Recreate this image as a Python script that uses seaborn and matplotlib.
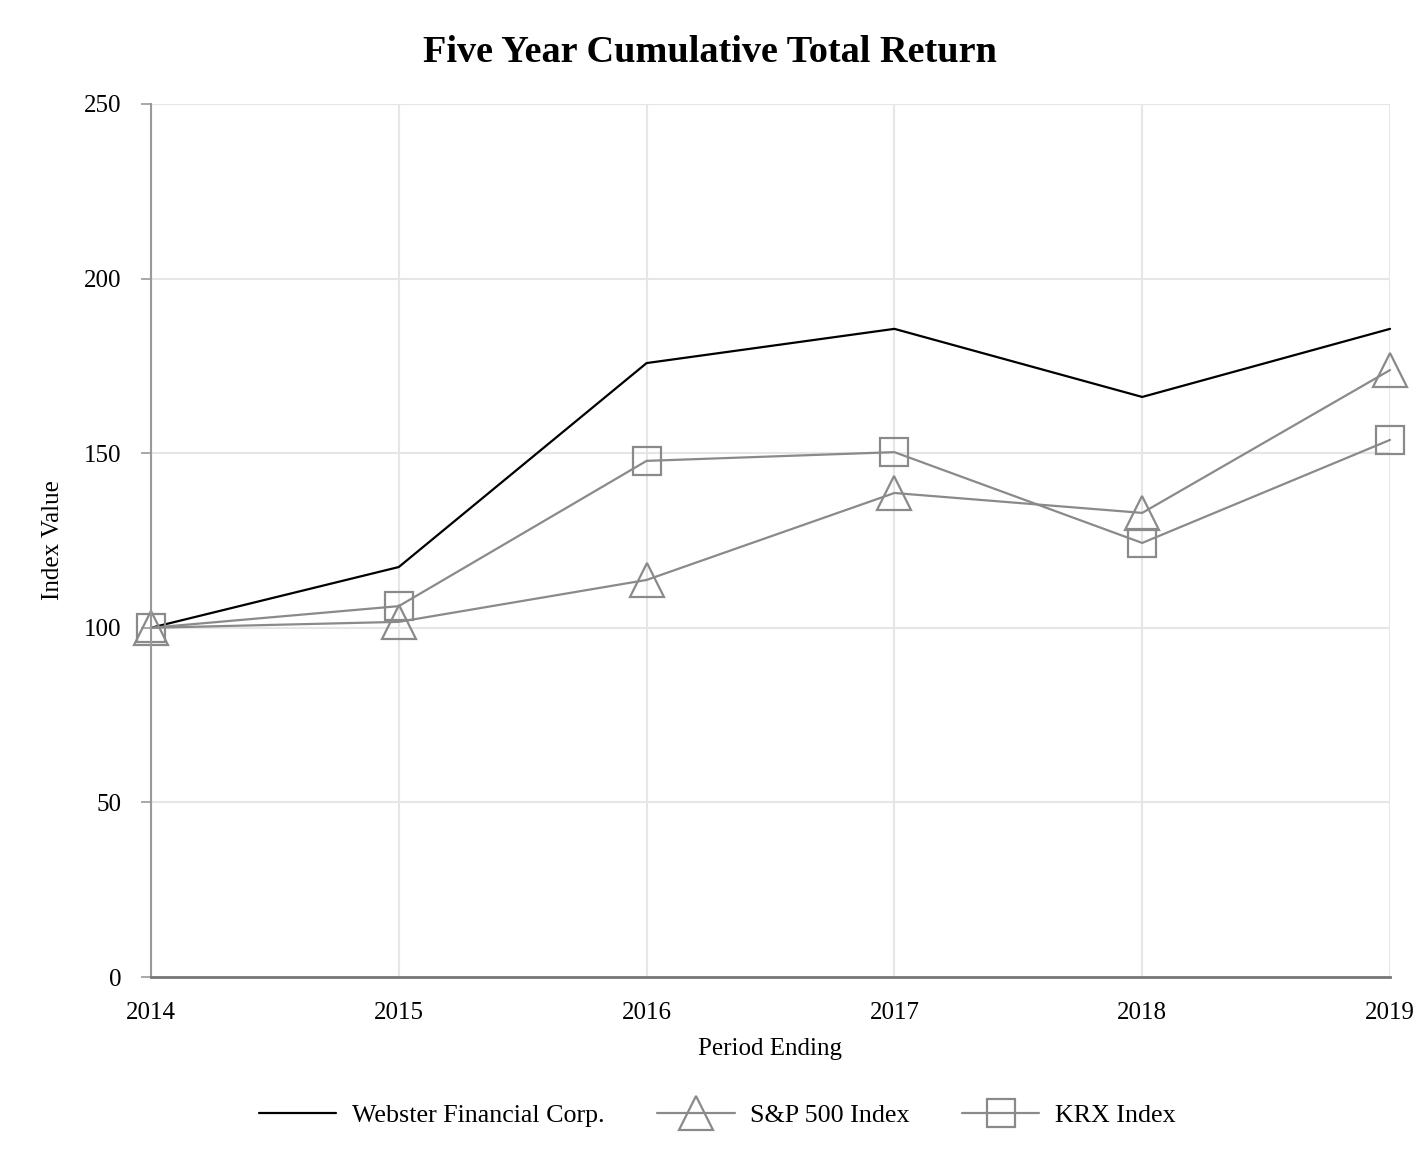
import pandas as pd
import seaborn as sns
import matplotlib.pyplot as plt

# data
years = [2014, 2015, 2016, 2017, 2018, 2019]
webster = [100, 117.4, 175.8, 185.6, 166.1, 185.6]
sp500 = [100, 101.7, 113.7, 138.6, 132.9, 173.8]
krx = [100, 106.2, 147.8, 150.3, 124.3, 153.8]

sns.set_style("white")
plt.rcParams['font.family'] = ['Liberation Serif', 'DejaVu Serif']
plt.rcParams['text.color'] = 'black'
plt.rcParams['axes.labelcolor'] = 'black'
plt.rcParams['xtick.color'] = 'black'
plt.rcParams['ytick.color'] = 'black'

df = pd.DataFrame({'year': years, 'Webster Financial Corp.': webster,
                   'S&P 500 Index': sp500, 'KRX Index': krx})

fig = plt.figure(figsize=(14.2, 11.68), dpi=100)
ax = fig.add_axes([0.1063, 0.1635, 0.8726, 0.7475])

grey = '#8a8a8a'
sns.lineplot(data=df, x='year', y='Webster Financial Corp.', ax=ax, color='black',
             linewidth=1.6, label='Webster Financial Corp.', legend=False, clip_on=False)
sns.lineplot(data=df, x='year', y='S&P 500 Index', ax=ax, color=grey, linewidth=1.6,
             marker='^', markersize=24, markerfacecolor='none', markeredgecolor=grey,
             markeredgewidth=1.6, label='S&P 500 Index', legend=False, clip_on=False)
sns.lineplot(data=df, x='year', y='KRX Index', ax=ax, color=grey, linewidth=1.6,
             marker='s', markersize=20, markerfacecolor='none', markeredgecolor=grey,
             markeredgewidth=1.6, label='KRX Index', legend=False, clip_on=False)

ax.set_xlim(2014, 2019)
ax.set_ylim(0, 250)
ax.set_xticks(years)
ax.set_yticks([0, 50, 100, 150, 200, 250])
ax.grid(True, color='#e6e6e6', linewidth=1.5)
ax.set_axisbelow(True)
for s in ['top', 'right']:
    ax.spines[s].set_visible(False)
ax.spines['left'].set_color('#999999')
ax.spines['left'].set_linewidth(1.5)
ax.spines['bottom'].set_color('#777777')
ax.spines['bottom'].set_linewidth(2)
ax.tick_params(axis='y', left=True, length=7.5, width=1.2, color='#999999',
               labelcolor='black', labelsize=18, pad=14)
ax.tick_params(axis='x', bottom=False, length=0, labelsize=18, pad=18, labelcolor='black')

ax.set_xlabel('Period Ending', fontsize=18, labelpad=10)
ax.set_ylabel('Index Value', fontsize=18, labelpad=14)
fig.suptitle('Five Year Cumulative Total Return', fontsize=27.5, fontweight='bold', y=0.97)

h, l = ax.get_legend_handles_labels()
fig.legend(h, l, loc='center', bbox_to_anchor=(0.505, 0.045), ncol=3, frameon=False,
           fontsize=18.7, handlelength=3.0, columnspacing=2.0, handletextpad=0.6)

fig.savefig('out.png', dpi=100)
